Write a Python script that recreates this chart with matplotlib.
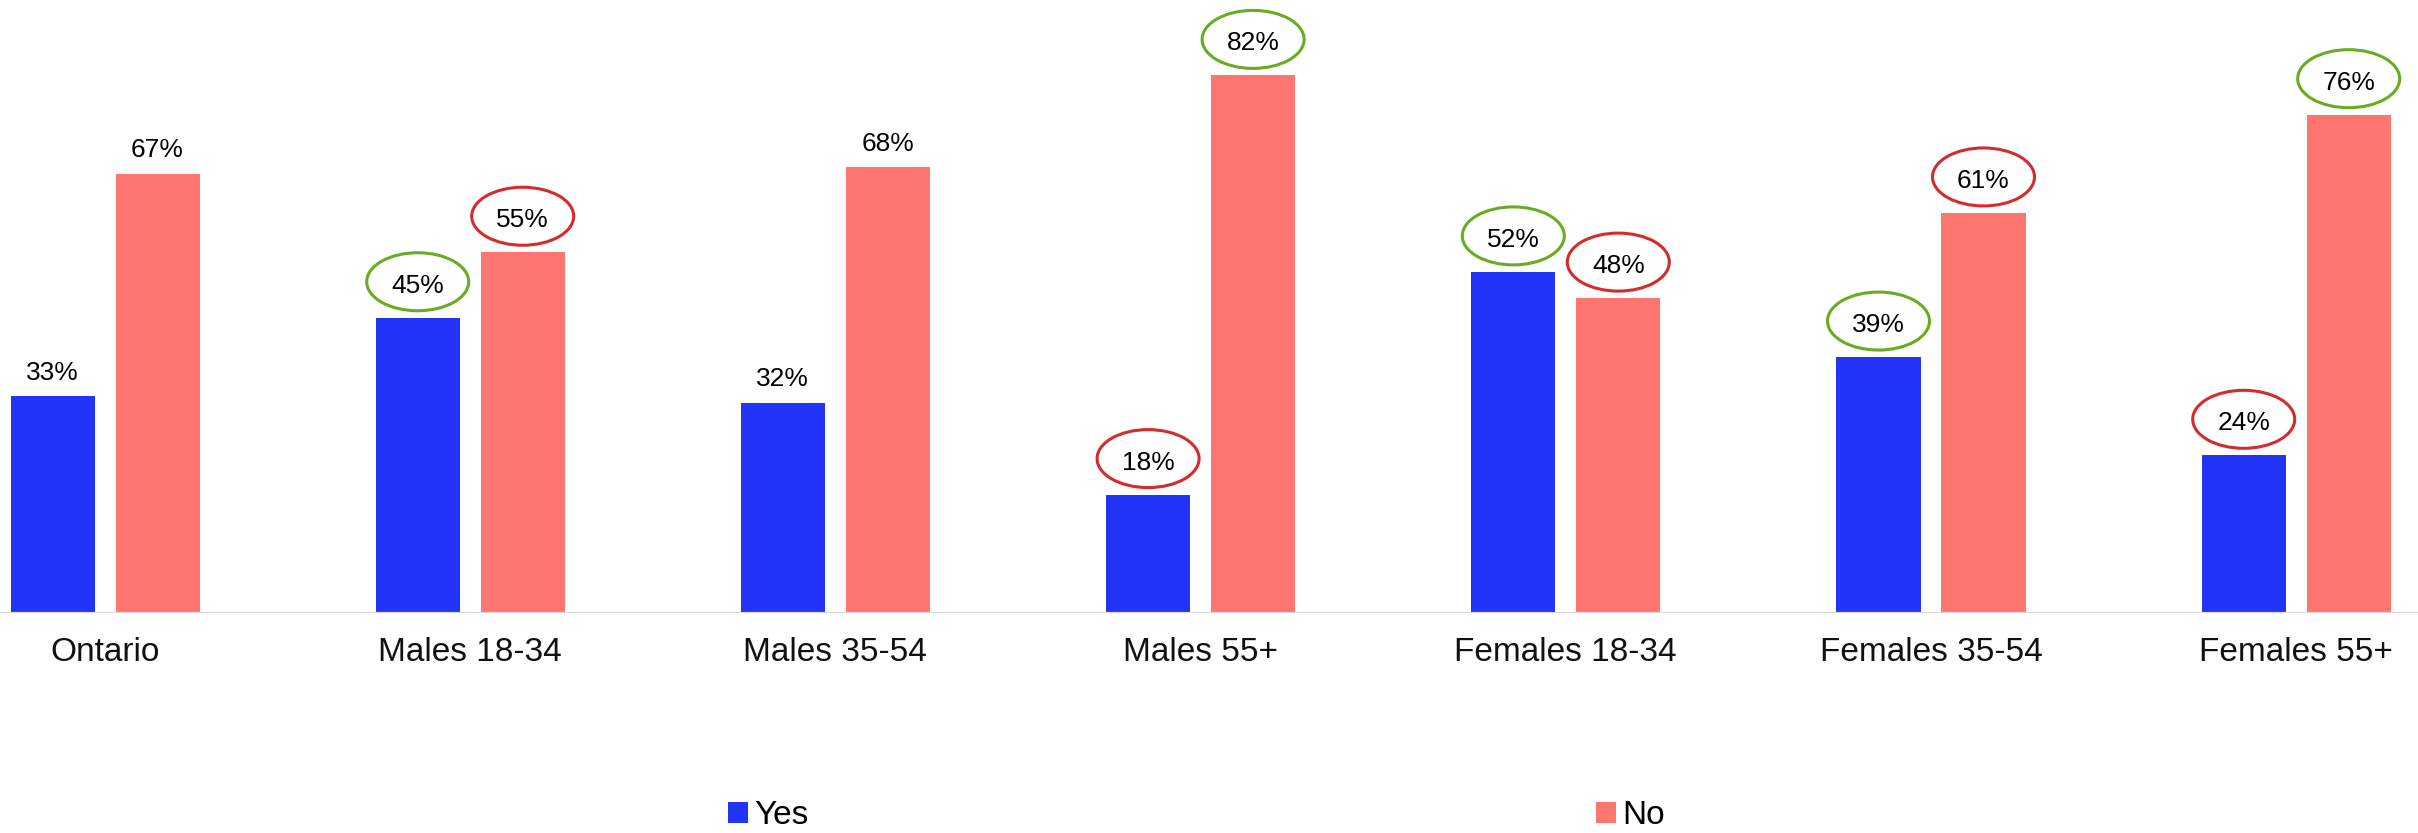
import matplotlib
matplotlib.use("Agg")
import matplotlib.pyplot as plt
from matplotlib.patches import Ellipse, Patch
import numpy as np

categories = ["Ontario", "Males 18-34", "Males 35-54", "Males 55+",
              "Females 18-34", "Females 35-54", "Females 55+"]
yes_vals = [33, 45, 32, 18, 52, 39, 24]
no_vals = [67, 55, 68, 82, 48, 61, 76]
# ring colour around each value label (None = plain label)
yes_rings = [None, "green", None, "red", "green", "green", "red"]
no_rings = [None, "red", None, "green", "red", "red", "green"]
series_names = ["Yes", "No"]

BLUE = "#2234F5"
SALMON = "#FF7670"
RING_COLORS = {"green": "#6BAA23", "red": "#D42B2B"}

plt.rcParams["font.family"] = ["Liberation Sans", "DejaVu Sans"]

W, H, DPI = 2418, 833, 100
fig = plt.figure(figsize=(W / DPI, H / DPI), dpi=DPI)

# axes: baseline at 612.5px from top, group pitch 365.2px
base_px = 612.5
pct_px = 6.55
pitch = 365.2
ax = fig.add_axes([0, (H - base_px) / H, 1, base_px / H])
ax.set_xlim(-105 / pitch, (W - 105) / pitch)
ax.set_ylim(0, base_px / pct_px)

x = np.arange(len(categories))
bw = 84 / pitch
off = 52.5 / pitch
ax.bar(x - off, yes_vals, bw, color=BLUE, zorder=2)
ax.bar(x + off, no_vals, bw, color=SALMON, zorder=2)

ax.axhline(0, color="#d9d9d9", lw=1.6, zorder=3)

ell_w = 102 / pitch
ell_h = 58 / pct_px
for xs, vals, rings in [(x - off, yes_vals, yes_rings), (x + off, no_vals, no_rings)]:
    for xi, v, r in zip(xs, vals, rings):
        if r is None:
            ax.text(xi, v + 16.5 / pct_px, f"{v}%", ha="center", va="baseline",
                    fontsize=19, color="black")
        else:
            ax.text(xi, v + 25 / pct_px, f"{v}%", ha="center", va="baseline",
                    fontsize=19, color="black")
            ax.add_patch(Ellipse((xi, v + 36 / pct_px), ell_w, ell_h, fill=False,
                                 edgecolor=RING_COLORS[r], lw=2.2, clip_on=False, zorder=4))

ax.set_xticks(x)
ax.set_xticklabels(categories, fontsize=24, color="#111111")
ax.tick_params(axis="x", length=0, pad=17.5)
ax.set_yticks([])
for s in ax.spines.values():
    s.set_visible(False)

handles = [Patch(facecolor=BLUE, label=series_names[0]),
           Patch(facecolor=SALMON, label=series_names[1])]
fig.legend(handles=handles, loc="upper left", bbox_to_anchor=(728 / W, 1 - 800 / H),
           ncol=2, frameon=False, fontsize=24, borderpad=0, borderaxespad=0,
           handlelength=0.6, handleheight=0.6, handletextpad=0.2, columnspacing=23.6)

fig.savefig("out.png", dpi=DPI)
